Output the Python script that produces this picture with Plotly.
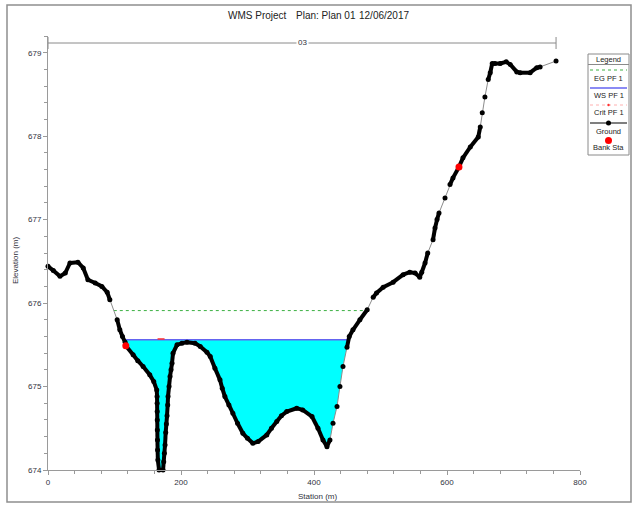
import plotly.graph_objects as go

# Cross section 03 -- ground survey (station m, elevation m)
ground_sta = [0, 8, 18, 26, 33, 45, 53, 60, 71, 81, 89, 93, 104, 108, 112, 116, 117,
              128, 135, 143, 153, 159, 163.5, 164.0, 164.1, 164.2, 164.3, 164.4, 164.6,
              164.8, 165.2, 167, 173, 174, 175, 176, 177, 178, 179, 180, 180.5, 182,
              183.5, 185, 186.5, 188, 194, 201.5, 209, 221, 229, 239, 244, 251, 258.6,
              262, 266, 272, 278, 285, 293, 300, 308, 316, 329, 336, 344, 351, 359, 374,
              383, 397, 406, 413.5, 419.5, 424, 428.6, 434.6, 439, 443.6, 449.6, 453,
              458.6, 469, 480, 489, 494, 504, 519, 534, 544, 552, 559, 562, 567, 571,
              579, 582, 585, 588, 597, 604.5, 609, 618, 624, 635, 647, 650, 653, 657,
              662, 665, 668, 672, 680, 689, 695, 705, 710, 725, 735, 740, 764]
ground_elev = [676.44, 676.39, 676.32, 676.36, 676.48, 676.49, 676.42, 676.28, 676.24,
               676.20, 676.13, 676.04, 675.80, 675.68, 675.60, 675.53, 675.49,
               675.38, 675.31, 675.24, 675.14, 675.06, 674.96, 674.88, 674.80, 674.70,
               674.60, 674.48, 674.36, 674.24, 674.12, 674.00, 674.00, 674.10, 674.20,
               674.30, 674.45, 674.55, 674.65, 674.78, 674.88, 675.00, 675.12, 675.20,
               675.28, 675.40, 675.50, 675.52, 675.53, 675.52, 675.48, 675.41, 675.36,
               675.22, 675.08, 674.98, 674.88, 674.78, 674.68, 674.56, 674.44, 674.38,
               674.32, 674.34, 674.42, 674.50, 674.58, 674.65, 674.70, 674.74, 674.72,
               674.64, 674.50, 674.36, 674.28, 674.36, 674.56, 674.76, 675.00, 675.24,
               675.47, 675.60, 675.68, 675.80, 675.92, 676.07, 676.12, 676.19, 676.25,
               676.34, 676.37, 676.36, 676.31, 676.37, 676.48, 676.60, 676.76, 676.90,
               677.00, 677.08, 677.26, 677.42, 677.50, 677.63, 677.74, 677.87, 677.99,
               678.11, 678.28, 678.47, 678.68, 678.76, 678.87, 678.87, 678.87, 678.89,
               678.86, 678.77, 678.76, 678.76, 678.82, 678.83, 678.90]

# Bank stations
bank_sta = [117, 618]
bank_elev = [675.49, 677.63]

# Profile 1 results
ws_elev = 675.56      # water surface
eg_elev = 675.91      # energy grade
crit_sta = [170]
crit_elev = [675.57]  # critical water surface

xs_name = "03"
title_parts = ["WMS Project", "Plan: Plan 01", "12/06/2017"]
legend_labels = ["EG PF 1", "WS PF 1", "Crit PF 1", "Ground", "Bank Sta"]

X_RANGE = [0, 800]
Y_RANGE = [674, 679.2]

W, H = 635, 505
ML, MR, MT, MB = 48, 55, 36, 35
PW, PH = W - ML - MR, H - MT - MB

FONT = "Liberation Sans, Arial, sans-serif"
TXT = "#30323c"


def px(xp):
    return (xp - ML) / PW


def py(yp):
    return (H - MB - yp) / PH


def crossings(level):
    """Stations where the ground profile crosses a level (left and right)."""
    pts = []
    for i in range(len(ground_sta) - 1):
        a, b = ground_elev[i], ground_elev[i + 1]
        if (a - level) * (b - level) < 0:
            t = (level - a) / (b - a)
            pts.append((i, ground_sta[i] + t * (ground_sta[i + 1] - ground_sta[i])))
    return pts


# wetted area polygon
wc = crossings(ws_elev)
(il, xl), (ir, xr) = wc[0], wc[-1]
poly_x = [xl] + ground_sta[il + 1:ir + 1] + [xr, xl]
poly_y = [ws_elev] + ground_elev[il + 1:ir + 1] + [ws_elev, ws_elev]

ec = crossings(eg_elev)
eg_l, eg_r = ec[0][1], ec[-1][1]

# split ground segments into densely surveyed (thick) and sparse (thin) runs
sx = PW / (X_RANGE[1] - X_RANGE[0])
sy = PH / (Y_RANGE[1] - Y_RANGE[0])
thick_x, thick_y = [], []
for i in range(len(ground_sta) - 1):
    dx = (ground_sta[i + 1] - ground_sta[i]) * sx
    dy = (ground_elev[i + 1] - ground_elev[i]) * sy
    if (dx * dx + dy * dy) ** 0.5 < 13.5:
        thick_x += [ground_sta[i], ground_sta[i + 1], None]
        thick_y += [ground_elev[i], ground_elev[i + 1], None]

fig = go.Figure()

fig.add_trace(go.Scatter(x=poly_x, y=poly_y, mode="lines", fill="toself",
                         fillcolor="#00ffff", line=dict(width=0),
                         hoverinfo="skip", showlegend=False))
fig.add_trace(go.Scatter(x=[eg_l, eg_r], y=[eg_elev, eg_elev], mode="lines",
                         line=dict(color="#3cb043", width=1, dash="dot"),
                         showlegend=False))
fig.add_trace(go.Scatter(x=[xl, xr], y=[ws_elev, ws_elev], mode="lines",
                         line=dict(color="#6464f0", width=1.5), showlegend=False))
fig.add_trace(go.Scatter(x=ground_sta, y=ground_elev, mode="lines",
                         line=dict(color="#8c8c8c", width=1), showlegend=False))
fig.add_trace(go.Scatter(x=thick_x, y=thick_y, mode="lines",
                         line=dict(color="black", width=4), showlegend=False,
                         connectgaps=False))
fig.add_trace(go.Scatter(x=ground_sta, y=ground_elev, mode="markers",
                         marker=dict(color="black", size=5), cliponaxis=False,
                         showlegend=False))
fig.add_trace(go.Scatter(x=crit_sta, y=crit_elev, mode="markers",
                         marker=dict(color="#ff3030", size=5, symbol="line-ew",
                                     line=dict(color="#ff3030", width=1.5)),
                         showlegend=False))
fig.add_trace(go.Scatter(x=bank_sta, y=bank_elev, mode="markers",
                         marker=dict(color="#ff0000", size=7), showlegend=False))

shapes = []
annotations = []


def label(x, y, text, size, color, xref="paper", **kw):
    annotations.append(dict(x=x, y=y, xref=xref, yref="paper", text=text,
                            showarrow=False, xanchor="center", yanchor="middle",
                            font=dict(size=size, color=color, family=FONT), **kw))


# outer frame
shapes.append(dict(type="rect", xref="paper", yref="paper",
                   x0=px(7), x1=px(631), y0=py(502), y1=py(5),
                   line=dict(color="#8f8f8f", width=1.5)))

# reach extent bar with cross-section name
bar_y = py(43)
shapes.append(dict(type="line", xref="x", yref="paper", x0=ground_sta[0],
                   x1=ground_sta[-1], y0=bar_y, y1=bar_y,
                   line=dict(color="#8a8a8a", width=1)))
for s in (ground_sta[0], ground_sta[-1]):
    shapes.append(dict(type="line", xref="x", yref="paper", x0=s, x1=s,
                       y0=py(49), y1=py(37), line=dict(color="#8a8a8a", width=1)))
label((ground_sta[0] + ground_sta[-1]) / 2, bar_y, xs_name, 8, TXT, xref="x",
      bgcolor="white", borderpad=1)

# title pieces
for txt, cx in zip(title_parts, [257, 326, 384]):
    label(px(cx), py(15), txt, 10, "#222")

# axis titles
label(px(15), py(261), "Elevation (m)", 8, TXT, textangle=-90)
label(px(317), py(496), "Station (m)", 8, TXT)

# legend box
LX0, LX1 = 588, 629
shapes.append(dict(type="rect", xref="paper", yref="paper", x0=px(LX0), x1=px(LX1),
                   y0=py(155), y1=py(54), line=dict(color="#8a8a8a", width=1)))
shapes.append(dict(type="line", xref="paper", yref="paper", x0=px(LX0), x1=px(LX1),
                   y0=py(64.5), y1=py(64.5), line=dict(color="#8a8a8a", width=1)))
cx_leg = (LX0 + LX1) / 2
label(px(cx_leg), py(59.5), "Legend", 7.5, "#222")

sym_y = [70, 88, 105, 123, 140.5]
txt_y = [78, 95.5, 113, 131, 147.5]
line_styles = [dict(color="#3cb043", width=1, dash="dot"),
               dict(color="#6464f0", width=1.5),
               dict(color="#ffb0b0", width=1, dash="dot"),
               dict(color="black", width=1.2),
               None]
for lbl, sy_, ty_, ls in zip(legend_labels, sym_y, txt_y, line_styles):
    if ls is not None:
        shapes.append(dict(type="line", xref="paper", yref="paper", x0=px(LX0 + 2),
                           x1=px(LX1 - 2), y0=py(sy_), y1=py(sy_), line=ls))
    label(px(cx_leg), py(ty_), lbl, 7.5, "#222")


def dot(xp, yp, r, color):
    return dict(type="circle", xref="paper", yref="paper", xsizemode="pixel",
                ysizemode="pixel", xanchor=px(xp), yanchor=py(yp),
                x0=-r, x1=r, y0=-r, y1=r, fillcolor=color, line=dict(width=0))


shapes.append(dot(cx_leg, sym_y[2], 1.2, "#ff3030"))
shapes.append(dot(cx_leg, sym_y[3], 2.5, "black"))
shapes.append(dot(cx_leg, sym_y[4], 3.5, "#ff0000"))

axis_common = dict(showline=True, linecolor="#9a9a9a", linewidth=1, ticks="outside",
                   ticklen=4, tickcolor="#9a9a9a", showgrid=False, zeroline=False,
                   tickfont=dict(size=8, color=TXT, family=FONT))

fig.update_layout(
    width=W, height=H,
    margin=dict(l=ML, r=MR, t=MT, b=MB),
    paper_bgcolor="white", plot_bgcolor="white",
    showlegend=False,
    shapes=shapes, annotations=annotations,
    xaxis=dict(range=X_RANGE, tick0=0, dtick=200, **axis_common,
               minor=dict(dtick=40, ticklen=3, ticks="outside", tickcolor="#9a9a9a")),
    yaxis=dict(range=Y_RANGE, tick0=674, dtick=1, **axis_common,
               minor=dict(dtick=0.2, ticklen=3, ticks="outside", tickcolor="#9a9a9a")),
)

fig.write_html("out.html")
